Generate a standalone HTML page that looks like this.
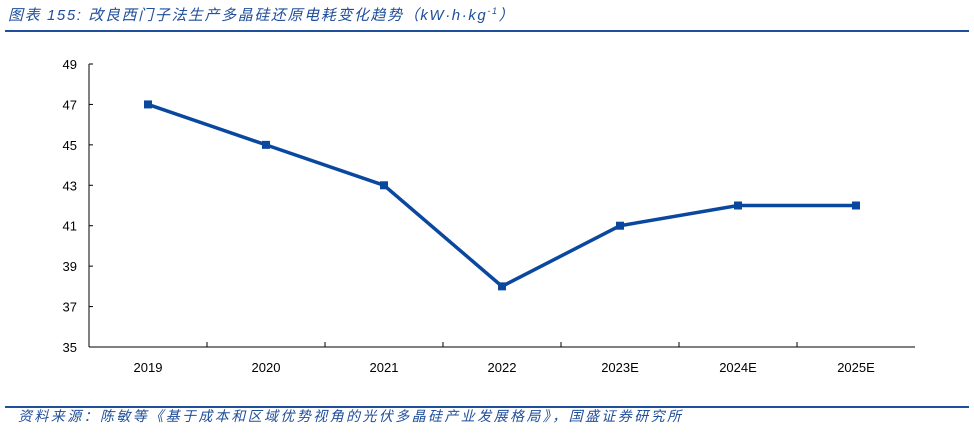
<!DOCTYPE html>
<html><head><meta charset="utf-8"><style>
body{margin:0;background:#fff;width:974px;height:441px;overflow:hidden;font-family:"Liberation Sans","Noto Sans CJK SC",sans-serif}
</style></head><body>
<svg width="974" height="441">
<text x="8" y="20" font-size="15" font-style="italic" letter-spacing="1.6" fill="#1f4e9a" font-family="Liberation Sans, Noto Sans CJK SC, sans-serif">图表 155:  改良西门子法生产多晶硅还原电耗变化趋势（kW·h·kg<tspan font-size="9" dy="-6">-1</tspan><tspan dy="6">）</tspan></text>
<rect x="5" y="30" width="964" height="2" fill="#1f4e9a"/>
<g id="plot"></g>
<rect x="5" y="406" width="964" height="2" fill="#1f4e9a"/>
<text x="18" y="421" font-size="14" font-style="italic" letter-spacing="2.4" fill="#1f4e9a">资料来源：陈敏等《基于成本和区域优势视角的光伏多晶硅产业发展格局》，国盛证券研究所</text>
</svg>
<script>
const categories=["2019","2020","2021","2022","2023E","2024E","2025E"];
const values=[47,45,43,38,41,42,42];
const yTicks=[35,37,39,41,43,45,47,49];
const NS="http://www.w3.org/2000/svg";
const g=document.getElementById('plot');
const x0=89,x1=915,yTop=64,yBot=347,yMin=35,yMax=49;
const slot=(x1-x0)/categories.length;
const xs=i=>x0+slot*(i+0.5);
const ys=v=>yBot-(v-yMin)/(yMax-yMin)*(yBot-yTop);
function mk(t,a){const e=document.createElementNS(NS,t);for(const k in a)e.setAttribute(k,a[k]);g.appendChild(e);return e;}
let e=mk('line',{x1:x0,y1:yTop,x2:x0,y2:yBot,stroke:'#000','stroke-width':1});


e=mk('line',{x1:x0,y1:yBot,x2:x1,y2:yBot,stroke:'#000','stroke-width':1});


yTicks.forEach(v=>{
 let t=mk('line',{x1:x0,y1:ys(v),x2:x0+4,y2:ys(v),stroke:'#000'});
 
 
 let l=mk('text',{x:x0-12,y:ys(v)+5,'text-anchor':'end','font-size':13,fill:'#000'});
 l.textContent=v;
 
 
});
categories.forEach((c,i)=>{
 if(i>0){let t=mk('line',{x1:x0+slot*i,y1:yBot,x2:x0+slot*i,y2:yBot-5,stroke:'#000'});
 
 }
 let l=mk('text',{x:xs(i),y:372,'text-anchor':'middle','font-size':13,fill:'#000'});
 l.textContent=c;
 
 
});
let p=mk('polyline',{points:values.map((v,i)=>xs(i)+','+ys(v)).join(' '),fill:'none',stroke:'#0a48a0','stroke-width':3.5});


values.forEach((v,i)=>{
 let m=mk('rect',{x:xs(i)-4,y:ys(v)-4,width:8,height:8,fill:'#0a48a0'});
 
 
});
</script>
</body></html>
